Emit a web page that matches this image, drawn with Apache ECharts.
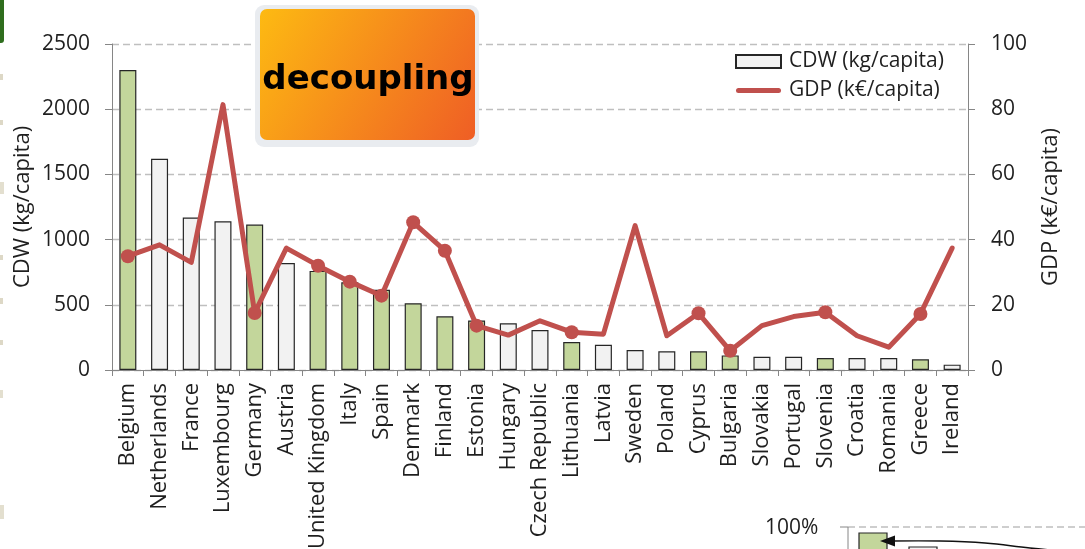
<!DOCTYPE html>
<html>
<head>
<meta charset="utf-8">
<script src="https://cdn.jsdelivr.net/npm/echarts@6/dist/echarts.min.js"></script>
<style>
html,body{margin:0;padding:0;background:#fff;}
#chart{width:1085px;height:549px;}
</style>
</head>
<body>
<div id="chart"></div>
<script>
const categories = ['Belgium','Netherlands','France','Luxembourg','Germany','Austria','United Kingdom','Italy','Spain','Denmark','Finland','Estonia','Hungary','Czech Republic','Lithuania','Latvia','Sweden','Poland','Cyprus','Bulgaria','Slovakia','Portugal','Slovenia','Croatia','Romania','Greece','Ireland'];
const cdwValues = [2300,1620,1170,1140,1115,820,760,672,615,512,412,380,358,307,215,194,153,143,143,112,102,102,92,92,92,82,41];
const gdpValues = [34.9,38.4,33.0,81.4,17.5,37.4,32.0,27.1,22.8,45.3,36.6,13.6,10.7,15.1,11.6,11.0,44.3,10.5,17.4,5.9,13.6,16.4,17.7,10.5,7.0,17.2,37.4];
const decoupled = [1,0,0,0,1,0,1,1,1,1,1,1,0,0,1,0,0,0,1,1,0,0,1,0,0,1,0];
const leftTicks = {min:0,max:2500,interval:500};
const rightTicks = {min:0,max:100,interval:20};

const FONT = '"Open Sans", sans-serif';
const TXT = '#1f1f1f';
const GREEN = '#C3D69B', GREY = '#F2F2F2', RED = '#C0504D';

const chart = echarts.init(document.getElementById('chart'), null, {renderer:'canvas'});
const option = {
  animation:false,
  backgroundColor:'#fff',
  textStyle:{fontFamily:FONT},
  grid:{left:112,right:117,top:44,bottom:179,containLabel:false,outerBoundsMode:'none'},
  legend:{
    orient:'vertical', left:730, top:46, itemWidth:45, itemHeight:13, itemGap:8,
    textStyle:{fontFamily:FONT,fontSize:21,color:TXT,padding:[0,0,0,3]},
    data:[
      {name:'CDW (kg/capita)', icon:'rect'},
      {name:'GDP (k€/capita)', icon:'path://M2.5,0 L42.5,0 A2.5,2.5 0 0 1 42.5,5 L2.5,5 A2.5,2.5 0 0 1 2.5,0 Z'}
    ]
  },
  xAxis:{
    type:'category', data:categories, boundaryGap:true,
    axisLine:{lineStyle:{color:'#868686',width:1}},
    axisTick:{show:true,alignWithLabel:false,length:6,lineStyle:{color:'#868686'}},
    axisLabel:{rotate:90,fontFamily:FONT,fontSize:22,color:TXT,margin:13,interval:0}
  },
  yAxis:[
    {type:'value', min:leftTicks.min, max:leftTicks.max, interval:leftTicks.interval,
     name:'CDW (kg/capita)', nameLocation:'middle', nameRotate:90, nameGap:78, nameMoveOverlap:false,
     nameTextStyle:{fontFamily:FONT,fontSize:22,color:TXT},
     axisLine:{show:true,lineStyle:{color:'#868686'}},
     axisTick:{show:true,length:7,lineStyle:{color:'#868686'}},
     axisLabel:{fontFamily:FONT,fontSize:21,color:TXT,margin:22,formatter:v=>String(v)},
     splitLine:{show:true,lineStyle:{color:'#BFBFBF',type:[7,4],width:1.3}}},
    {type:'value', min:rightTicks.min, max:rightTicks.max, interval:rightTicks.interval, position:'right',
     name:'GDP (k€/capita)', nameLocation:'middle', nameRotate:90, nameGap:72,
     nameTextStyle:{fontFamily:FONT,fontSize:22,color:TXT},
     axisLine:{show:true,lineStyle:{color:'#868686'}},
     axisTick:{show:true,length:7,lineStyle:{color:'#868686'}},
     axisLabel:{fontFamily:FONT,fontSize:21,color:TXT,margin:23,formatter:v=>String(v)},
     splitLine:{show:false}}
  ],
  series:[
    {name:'CDW (kg/capita)', type:'bar', yAxisIndex:0, barWidth:17,
     itemStyle:{color:GREY,borderColor:'#262626',borderWidth:1.2},
     data:cdwValues.map((v,i)=>({value:v,itemStyle:{color:decoupled[i]?GREEN:GREY}})),
     z:2},
    {name:'GDP (k€/capita)', type:'line', yAxisIndex:1,
     color:RED,
     lineStyle:{color:RED,width:5,cap:'round',join:'round'},
     itemStyle:{color:RED},
     symbol:'circle', showSymbol:true,
     data:gdpValues.map((v,i)=>({value:v,symbolSize:decoupled[i]?14:0})),
     z:3}
  ],
  graphic:[
    // decoupling badge
    {type:'rect', shape:{x:255,y:5,width:224,height:142,r:9}, style:{fill:'#E9ECF0'}, z:10},
    {type:'rect', shape:{x:260,y:9,width:215,height:131,r:7},
     style:{fill:new echarts.graphic.LinearGradient(0,0,1,1,[{offset:0,color:'#FDBA12'},{offset:1,color:'#EF5E25'}])}, z:11},
    {type:'text', x:368, y:80, z:12,
     style:{text:'decoupling', font:'bold 34px "DejaVu Sans", Verdana, sans-serif', fill:'#000', align:'center', verticalAlign:'middle'}},
    // slide artefacts on the left edge
    {type:'rect', shape:{x:-4,y:-4,width:8,height:47,r:3}, style:{fill:'#2F6E1E'}},
    {type:'rect', shape:{x:0,y:74,width:3,height:6}, style:{fill:'#DDD8C6'}},
    {type:'rect', shape:{x:0,y:120,width:3,height:5}, style:{fill:'#DDD8C6'}},
    {type:'rect', shape:{x:0,y:182,width:4,height:12}, style:{fill:'#E3DFCF'}},
    {type:'rect', shape:{x:0,y:255,width:3,height:5}, style:{fill:'#DDD8C6'}},
    {type:'rect', shape:{x:0,y:298,width:3,height:6}, style:{fill:'#DDD8C6'}},
    {type:'rect', shape:{x:0,y:340,width:3,height:5}, style:{fill:'#DDD8C6'}},
    {type:'rect', shape:{x:0,y:390,width:3,height:8}, style:{fill:'#E3DFCF'}},
    {type:'rect', shape:{x:0,y:505,width:4,height:14}, style:{fill:'#E3DFCF'}},
    // partial inset chart at bottom-right
    {type:'text', x:765, y:528, style:{text:'100%', font:'21px "Open Sans", sans-serif', fill:TXT, verticalAlign:'middle'}},
    {type:'line', shape:{x1:848,y1:527,x2:1085,y2:527}, style:{stroke:'#BFBFBF',lineWidth:1.3,lineDash:[7,4]}},
    {type:'line', shape:{x1:840,y1:527,x2:848,y2:527}, style:{stroke:'#868686',lineWidth:1}},
    {type:'line', shape:{x1:848,y1:527,x2:848,y2:549}, style:{stroke:'#868686',lineWidth:1}},
    {type:'rect', shape:{x:859,y:533,width:28,height:20}, style:{fill:GREEN,stroke:'#262626',lineWidth:1.2}},
    {type:'rect', shape:{x:909,y:547,width:28,height:6}, style:{fill:GREY,stroke:'#262626',lineWidth:1.2}},
    {type:'polyline', shape:{points:[[1075,552],[1030,548],[985,543],[940,541],[892,541]],smooth:0.4}, style:{stroke:'#111',lineWidth:1.3,fill:null}, z:12},
    {type:'polygon', shape:{points:[[880,541],[895,535.5],[895,546.5]]}, style:{fill:'#111'}, z:12}
  ]
};
chart.setOption(option);
</script>
</body>
</html>
